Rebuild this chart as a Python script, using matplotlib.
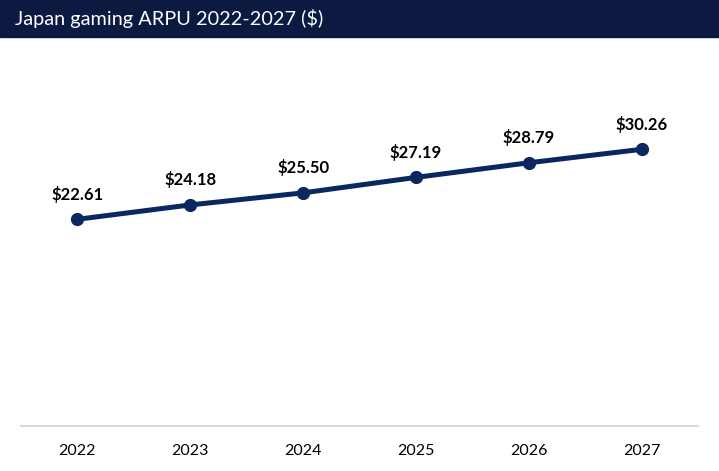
import matplotlib.pyplot as plt
from matplotlib.patches import Rectangle

years = ['2022', '2023', '2024', '2025', '2026', '2027']
arpu = [22.61, 24.18, 25.50, 27.19, 28.79, 30.26]
labels = ['$22.61', '$24.18', '$25.50', '$27.19', '$28.79', '$30.26']

plt.rcParams['font.family'] = ['Lato', 'DejaVu Sans']

W, H = 719, 471
fig = plt.figure(figsize=(W / 100, H / 100), dpi=100)

#header bar
fig.patches.append(Rectangle((0, 1 - 37 / H), 1, 37 / H, transform=fig.transFigure,
                             color='#0c1a42', zorder=0))
fig.text(15 / W, 1 - 19 / H, 'Japan gaming ARPU 2022-2027 ($)', color='white',
         fontsize=14.3, va='center', ha='left')

ax = fig.add_axes([21 / W, 1 - 426 / H, 677 / W, 320 / H])
x = list(range(len(years)))
ax.plot(x, arpu, color='#0b2760', lw=3.6, marker='o', ms=8.5, clip_on=False)
for xi, v, lab in zip(x, arpu, labels):
    ax.annotate(lab, (xi, v), xytext=(0, 25), textcoords='offset pixels',
                ha='center', va='center', fontsize=12, fontweight='bold', color='black')

ax.set_xlim(-0.5, 5.5)
ax.set_ylim(0, 35)
ax.set_xticks(x)
ax.set_xticklabels(years, fontsize=11.5)
ax.tick_params(axis='x', length=0, pad=13)
ax.set_yticks([])
for s in ['top', 'right', 'left']:
    ax.spines[s].set_visible(False)
ax.spines['bottom'].set_color('#d9d9d9')
ax.spines['bottom'].set_linewidth(1.5)

fig.savefig('out.png', dpi=100)
